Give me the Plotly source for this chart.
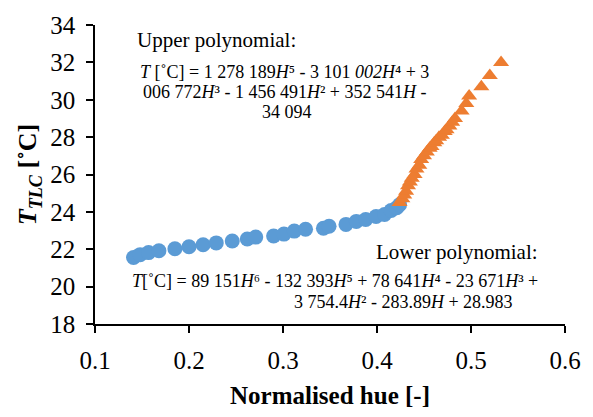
import plotly.graph_objects as go

# Calibration data: normalised hue vs. TLC temperature
lower_hue = [0.141, 0.148, 0.157, 0.168, 0.185, 0.200, 0.215, 0.229, 0.246, 0.262,
             0.271, 0.290, 0.301, 0.312, 0.324, 0.343, 0.349, 0.367, 0.378, 0.388,
             0.399, 0.408, 0.415, 0.421, 0.424]
lower_temp = [21.56, 21.71, 21.82, 21.92, 22.03, 22.13, 22.24, 22.34, 22.44, 22.55,
              22.65, 22.71, 22.81, 22.97, 23.07, 23.12, 23.23, 23.33, 23.49, 23.59,
              23.75, 23.86, 24.07, 24.22, 24.38]

upper_hue = [0.424, 0.427, 0.429, 0.431, 0.433, 0.435, 0.437, 0.440, 0.442, 0.445,
             0.447, 0.450, 0.453, 0.456, 0.458, 0.461, 0.463, 0.466, 0.469, 0.472,
             0.474, 0.477, 0.480, 0.483, 0.490, 0.495, 0.498, 0.511, 0.520, 0.532]
upper_temp = [24.5, 24.7, 24.9, 25.1, 25.4, 25.6, 25.8, 26.0, 26.3, 26.5,
              26.8, 27.0, 27.2, 27.4, 27.5, 27.7, 27.8, 28.0, 28.1, 28.3,
              28.4, 28.6, 28.8, 29.0, 29.4, 29.8, 30.2, 30.7, 31.3, 32.0]

x_ticks = [0.1, 0.2, 0.3, 0.4, 0.5, 0.6]
y_ticks = [18, 20, 22, 24, 26, 28, 30, 32, 34]

FONT = "Liberation Serif, Times New Roman, serif"

W, H = 593, 417
L, R, T, B = 95, 25, 18, 93
pw, ph = W - L - R, H - T - B

fig = go.Figure()
fig.add_trace(go.Scatter(
    x=lower_hue, y=lower_temp, mode="markers",
    marker=dict(symbol="circle", size=15, color="#5B9BD5"),
    showlegend=False))
fig.add_trace(go.Scatter(
    x=upper_hue, y=upper_temp, mode="markers",
    marker=dict(symbol="triangle-up", size=14, color="#ED7D31"),
    showlegend=False))

eq_font = dict(family=FONT, size=18, color="black")
head_font = dict(family=FONT, size=21, color="black")

# (text, page x in px, page y in px, horizontal anchor, font)
notes = [
    ("Upper polynomial:", 135, 33, "left", head_font),
    ("<i>T</i> [˚C] = 1 278 189<i>H</i>⁵ - 3 101 <i>002H</i>⁴ + 3",
     286, 66, "center", eq_font),
    ("006 772<i>H</i>³ - 1 456 491<i>H</i>² + 352 541<i>H</i> -",
     286, 87, "center", eq_font),
    ("34 094", 288, 107, "center", eq_font),
    ("Lower polynomial:", 543, 250, "right", head_font),
    ("<i>T</i>[˚C] = 89 151<i>H</i>⁶ - 132 393<i>H</i>⁵ + 78 641<i>H</i>⁴ - 23 671<i>H</i>³ +",
     543, 280, "right", eq_font),
    ("3 754.4<i>H</i>² - 283.89<i>H</i> + 28.983", 518, 301, "right", eq_font),
]
for text, px, py, anchor, font in notes:
    fig.add_annotation(text=text, x=(px - L) / pw, y=1 - (py - T) / ph,
                       xref="paper", yref="paper", xanchor=anchor, yanchor="middle",
                       showarrow=False, font=font)

axis_common = dict(
    showline=True, linecolor="black", linewidth=1.5, ticks="outside",
    tickcolor="black", ticklen=7, tickwidth=1.5, showgrid=False, zeroline=False,
    tickfont=dict(family=FONT, size=25, color="black"), ticklabelstandoff=6,
)

fig.update_layout(
    width=W, height=H,
    margin=dict(l=L, r=R, t=T, b=B),
    paper_bgcolor="white", plot_bgcolor="white",
    font=dict(family=FONT, color="black"),
    xaxis=dict(
        range=[0.1, 0.6], tickvals=x_ticks, ticktext=[f"{v:.1f}" for v in x_ticks],
        title=dict(text="<b>Normalised hue [-]</b>",
                   font=dict(family=FONT, size=25, color="black"), standoff=14),
        **axis_common,
    ),
    yaxis=dict(
        range=[18, 34], tickvals=y_ticks,
        title=dict(text="<b><i>T</i></b><sub><b><i>TLC</i></b></sub><b> [˚C]</b>",
                   font=dict(family=FONT, size=26, color="black"), standoff=6),
        **axis_common,
    ),
)

fig.write_html("out.html")
